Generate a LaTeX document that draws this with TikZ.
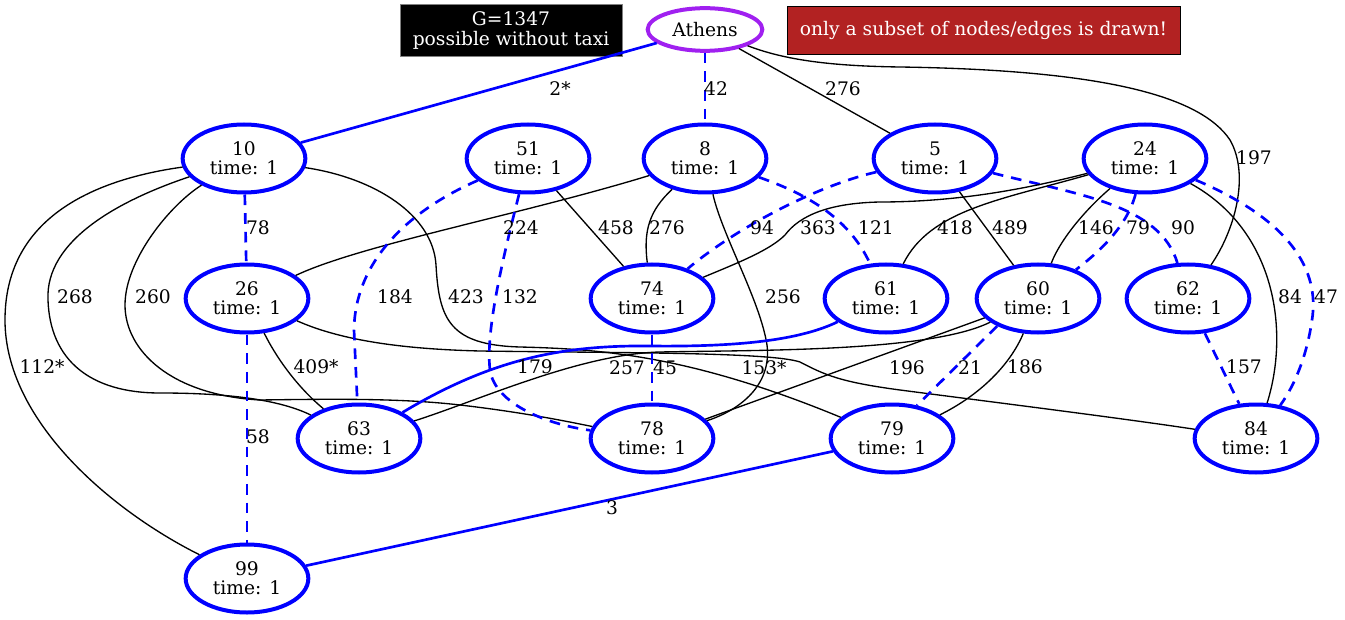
\documentclass[tikz,border=0pt]{standalone}
\usepackage{fontspec}
\setmainfont{DejaVu Serif}
\usetikzlibrary{shapes.geometric}
\definecolor{gvpurple}{HTML}{A020F0}
\definecolor{gvred}{HTML}{B22222}
\definecolor{gvblue}{HTML}{0000FF}

\begin{document}
\begin{tikzpicture}[x=0.75pt,y=-0.75pt,
  font=\fontsize{14pt}{14.5pt}\selectfont,
  stop/.style={ellipse, draw=gvblue, line width=3pt, minimum width=92pt,
    minimum height=51pt, inner sep=0pt, align=center},
  origin/.style={ellipse, draw=gvpurple, line width=3pt, minimum width=86pt,
    minimum height=32pt, inner sep=0pt},
  lbl/.style={inner sep=0pt},
  thinedge/.style={black, line width=1pt},
  bsolid/.style={gvblue, line width=2pt},
  bdash/.style={gvblue, line width=2pt, dash pattern=on 8pt off 6pt},
]
\useasboundingbox (0,0) rectangle (1345,620);

% info boxes
\node[draw=gray, line width=0.75pt, fill=black, text=white, align=center,
  minimum width=166.5pt, minimum height=39pt, inner sep=0pt]
  (gbox) at (511,30.5) {G=1347\\possible without taxi};
\node[draw=black, line width=0.75pt, fill=gvred, text=white,
  minimum width=294.75pt, minimum height=36pt, inner sep=0pt]
  (note) at (983.5,30.2) {only a subset of nodes/edges is drawn!};

% stops
\node[origin] (ath) at (705,29.5) {Athens};
\node[stop] (n10) at (244,158.5) {10\\time: 1};
\node[stop] (n51) at (528,158.5) {51\\time: 1};
\node[stop] (n8)  at (705,158.5) {8\\time: 1};
\node[stop] (n5)  at (935,158.5) {5\\time: 1};
\node[stop] (n24) at (1145,158.5) {24\\time: 1};
\node[stop] (n26) at (247,298.5) {26\\time: 1};
\node[stop] (n74) at (652,298.5) {74\\time: 1};
\node[stop] (n61) at (886,298.5) {61\\time: 1};
\node[stop] (n60) at (1038,298.5) {60\\time: 1};
\node[stop] (n62) at (1188,298.5) {62\\time: 1};
\node[stop] (n63) at (359,438.5) {63\\time: 1};
\node[stop] (n78) at (652,438.5) {78\\time: 1};
\node[stop] (n79) at (892,438.5) {79\\time: 1};
\node[stop] (n84) at (1256,438.5) {84\\time: 1};
\node[stop] (n99) at (247,578.5) {99\\time: 1};

% edges from Athens
\draw[bsolid] (ath) -- (n10);
\draw[bdash] (ath) -- (n8);
\draw[thinedge] (ath) -- (n5);
\draw[thinedge] (ath) .. controls (785,60) and (830,66) .. (900,67)
  .. controls (1100,70) and (1200,95) .. (1230,140)
  .. controls (1250,175) and (1235,230) .. (n62);

% edges from 10
\draw[bdash] (n10) -- (n26);
\draw[thinedge] (n10) .. controls (90,180) and (5,220) .. (5,320)
  .. controls (5,420) and (110,510) .. (n99);
\draw[thinedge] (n10) .. controls (120,200) and (45,240) .. (48,300)
  .. controls (50,360) and (90,393) .. (160,393)
  .. controls (230,393) and (280,400) .. (n63);
\draw[thinedge] (n10) .. controls (170,205) and (125,260) .. (125,305)
  .. controls (125,350) and (170,395) .. (260,400)
  .. controls (330,399) and (400,398) .. (460,405)
  .. controls (520,412) and (560,420) .. (n78);
\draw[thinedge] (n10) .. controls (375,178) and (433,215) .. (436,265)
  .. controls (439,320) and (450,345) .. (520,347)
  .. controls (600,349) and (690,355) .. (n79);

% edges from 26
\draw[thinedge] (n26) .. controls (275,355) and (295,385) .. (n63);
\draw[bdash] (n26) -- (n99);
\draw[thinedge] (n26) .. controls (340,340) and (400,349) .. (480,351)
  .. controls (620,353) and (770,352) .. (800,362)
  .. controls (825,375) and (840,382) .. (900,390)
  .. controls (1000,403) and (1120,418) .. (n84);

% edges from 8
\draw[thinedge] (n8) .. controls (520,215) and (360,245) .. (n26);
\draw[thinedge] (n8) .. controls (650,210) and (643,230) .. (n74);
\draw[thinedge] (n8) .. controls (722,235) and (760,300) .. (767,345)
  .. controls (772,385) and (740,410) .. (n78);
\draw[bdash] (n8) .. controls (810,195) and (850,220) .. (n61);

% edges from 51
\draw[bdash] (n51) .. controls (410,210) and (355,260) .. (354,330) -- (n63);
\draw[bdash] (n51) .. controls (505,250) and (485,330) .. (490,370)
  .. controls (495,405) and (550,425) .. (n78);
\draw[thinedge] (n51) -- (n74);

% edges from 5
\draw[bdash] (n5) .. controls (820,185) and (740,225) .. (n74);
\draw[thinedge] (n5) -- (n60);
\draw[bdash] (n5) .. controls (1080,195) and (1160,205) .. (n62);

% edges from 24
\draw[thinedge] (n24) .. controls (1030,188) and (960,202) .. (880,202)
  .. controls (830,203) and (800,215) .. (785,235)
  .. controls (770,250) and (740,262) .. (n74);
\draw[thinedge] (n24) .. controls (1000,200) and (930,210) .. (n61);
\draw[thinedge] (n24) .. controls (1085,210) and (1060,240) .. (n60);
\draw[bdash] (n24) .. controls (1130,215) and (1115,240) .. (n60);
\draw[thinedge] (n24) .. controls (1275,230) and (1290,330) .. (n84);
\draw[bdash] (n24) .. controls (1290,220) and (1320,270) .. (1312,320)
  .. controls (1307,355) and (1295,385) .. (n84);

% remaining edges
\draw[bdash] (n62) -- (n84);
\draw[bsolid] (n61) .. controls (800,340) and (740,347) .. (650,346)
  .. controls (560,345) and (490,360) .. (n63);
\draw[bdash] (n74) -- (n78);
\draw[thinedge] (n60) .. controls (930,352) and (760,350) .. (660,352)
  .. controls (580,354) and (480,400) .. (n63);
\draw[thinedge] (n60) -- (n78);
\draw[bdash] (n60.-146) -- (n79.53);
\draw[thinedge] (n60) .. controls (1010,365) and (980,395) .. (n79);
\draw[bsolid] (n79) -- (n99);

% edge labels
\node[lbl] (t1)  at (560,89)  {2*};
\node[lbl] (t2)  at (716,89)  {42};
\node[lbl] (t3)  at (843,89)  {276};
\node[lbl] (t4)  at (1254,158) {197};
\node[lbl] (t5)  at (258,228) {78};
\node[lbl] (t6)  at (521,228) {224};
\node[lbl] (t7)  at (616,228) {458};
\node[lbl] (t8)  at (667,228) {276};
\node[lbl] (t9)  at (762,228) {94};
\node[lbl] (t10) at (818,228) {363};
\node[lbl] (t11) at (876,228) {121};
\node[lbl] (t12) at (955,228) {418};
\node[lbl] (t13) at (1010,228) {489};
\node[lbl] (t14) at (1096,228) {146};
\node[lbl] (t15) at (1138,228) {79};
\node[lbl] (t16) at (1183,228) {90};
\node[lbl] (t17) at (75,297)  {268};
\node[lbl] (t18) at (153,297) {260};
\node[lbl] (t19) at (395,297) {184};
\node[lbl] (t20) at (466,297) {423};
\node[lbl] (t21) at (520,297) {132};
\node[lbl] (t22) at (783,297) {256};
\node[lbl] (t23) at (1290,297) {84};
\node[lbl] (t24) at (1326,297) {47};
\node[lbl] (t25) at (42,367)  {112*};
\node[lbl] (t26) at (316,367) {409*};
\node[lbl] (t27) at (535,367) {179};
\node[lbl] (t28) at (627,368) {257};
\node[lbl] (t29) at (665,368) {45};
\node[lbl] (t30) at (764,368) {153*};
\node[lbl] (t31) at (907,368) {196};
\node[lbl] (t32) at (970,368) {21};
\node[lbl] (t33) at (1025,367) {186};
\node[lbl] (t34) at (1244,367) {157};
\node[lbl] (t35) at (258,437) {58};
\node[lbl] (t36) at (612,508) {3};
\end{tikzpicture}
\end{document}
